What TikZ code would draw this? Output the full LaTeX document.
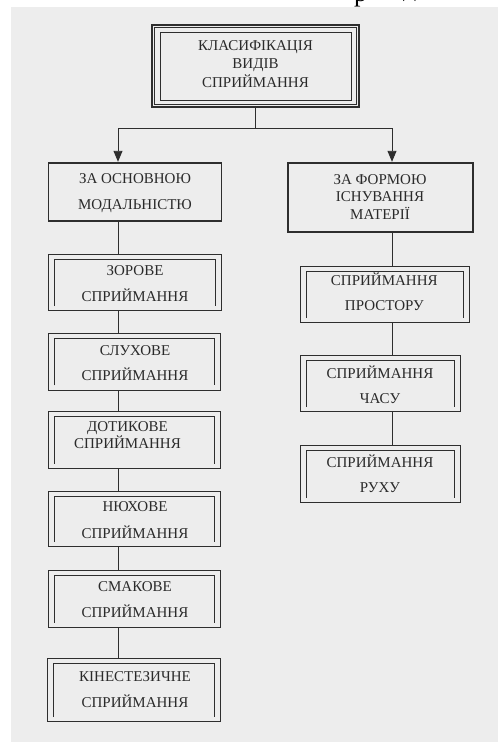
\documentclass[tikz,border=0pt]{standalone}
\usepackage{fontspec}
\setmainfont{Liberation Serif}
\usetikzlibrary{calc,arrows.meta}
\definecolor{bg}{HTML}{EDEDED}
\definecolor{lc}{HTML}{2E2E2E}
\definecolor{tc}{HTML}{2A2A2A}
\tikzset{
  bx/.style={draw=lc, line width=0.8pt, minimum width=#1, inner sep=0pt},
  mainbox/.style={draw=lc, line width=1.8pt, minimum width=#1, inner sep=0pt},
  lbl/.style={text=tc, anchor=base, align=center, inner sep=0pt},
  conn/.style={draw=lc, line width=0.9pt},
  arr/.style={conn, -{Triangle[width=9pt,length=11pt]}},
}
\newcommand{\fs}[1]{\fontsize{15}{#1}\selectfont}
\begin{document}
\begin{tikzpicture}[x=1pt,y=-1pt]
\useasboundingbox (0,0) rectangle (498,742);
\fill[bg] (11,7) rectangle (498,742);
% fragments of the line above
\begin{scope}
  \clip (330,0) rectangle (430,9);
  \node[anchor=base west, inner sep=0pt, font=\fontsize{26}{26}\selectfont, text=black] (fragA) at (354,1) {р};
  \node[anchor=base west, inner sep=0pt, font=\fontsize{26}{26}\selectfont, text=black] (fragB) at (403,-4) {д};
\end{scope}

% top box
\node[draw=lc, line width=2.2pt, minimum width=207pt, minimum height=82pt, inner sep=0pt] (top) at (255.5,66) {};
\draw[lc, line width=0.8pt] ($(top.north west)+(3.5,3.5)$) rectangle ($(top.south east)+(-3.5,-3.5)$);
\draw[lc, line width=0.7pt] ($(top.north west)+(9,8)$) rectangle ($(top.south east)+(-9,-7.5)$);
\node[lbl, font=\fs{18.5}] (toptxt) at (255.5,87) {КЛАСИФІКАЦІЯ\\ВИДІВ\\СПРИЙМАННЯ};

% main boxes
\node[mainbox=173pt, minimum height=58pt] (L0) at (135,191.7) {};
\node[lbl, font=\fs{26}] (L0t) at (135,209) {ЗА ОСНОВНОЮ\\МОДАЛЬНІСТЮ};
\node[mainbox=185pt, minimum height=69pt] (R0) at (380.2,197.2) {};
\node[lbl, font=\fs{17.3}] (R0t) at (380,219) {ЗА ФОРМОЮ\\ІСНУВАННЯ\\МАТЕРІЇ};

% left chain
\node[bx=173pt, minimum height=56.7pt] (L1) at (134.7,282.3) {};
\node[lbl, font=\fs{25.3}] (L1t) at (135,301) {ЗОРОВЕ\\СПРИЙМАННЯ};
\node[bx=172.7pt, minimum height=56.7pt] (L2) at (134.3,361.7) {};
\node[lbl, font=\fs{25}] (L2t) at (135,380) {СЛУХОВЕ\\СПРИЙМАННЯ};
\node[bx=172.7pt, minimum height=56.6pt] (L3) at (134.3,440) {};
\node[lbl, font=\fs{17.3}] (L3t) at (127.5,448.3) {ДОТИКОВЕ\\СПРИЙМАННЯ};
\node[bx=172.7pt, minimum height=55pt] (L4) at (134.3,519.2) {};
\node[lbl, font=\fs{26.6}] (L4t) at (135,538.3) {НЮХОВЕ\\СПРИЙМАННЯ};
\node[bx=172.7pt, minimum height=56.6pt] (L5) at (134.3,599) {};
\node[lbl, font=\fs{26}] (L5t) at (135,617.7) {СМАКОВЕ\\СПРИЙМАННЯ};
\node[bx=173.4pt, minimum height=63.4pt] (L6) at (134,690) {};
\node[lbl, font=\fs{25.6}] (L6t) at (135,707.3) {КІНЕСТЕЗИЧНЕ\\СПРИЙМАННЯ};

% right chain
\node[bx=169.3pt, minimum height=56.7pt] (R1) at (384.6,294.3) {};
\node[lbl, font=\fs{25}] (R1t) at (384.3,310) {СПРИЙМАННЯ\\ПРОСТОРУ};
\node[bx=160pt, minimum height=56pt] (R2) at (380,383.7) {};
\node[lbl, font=\fs{25}] (R2t) at (380,403.3) {СПРИЙМАННЯ\\ЧАСУ};
\node[bx=160.7pt, minimum height=57pt] (R3) at (380.3,474.2) {};
\node[lbl, font=\fs{24.6}] (R3t) at (380,492.3) {СПРИЙМАННЯ\\РУХУ};

% inner open frames
\foreach \n in {L1,L2,L3,L4,L5,L6,R1,R2,R3}{
  \draw[lc, line width=0.7pt] ($(\n.south west)+(6.5,-5)$) -- ($(\n.north west)+(6.5,5.5)$)
     -- ($(\n.north east)+(-6.5,5.5)$) -- ($(\n.south east)+(-6.5,-5)$);
}

% connectors
\coordinate (cl) at (118,0);
\coordinate (cr) at (392,0);
\coordinate (jn) at (255.5,128);
\draw[conn] (top.south) -- (jn);
\draw[conn] (jn -| cl) -- (jn -| cr);
\draw[arr] (jn -| cl) -- (L0.north -| cl);
\draw[arr] (jn -| cr) -- (R0.north -| cr);
\draw[conn] (L0.south -| cl) -- (L1.north -| cl);
\draw[conn] (L1.south -| cl) -- (L2.north -| cl);
\draw[conn] (L2.south -| cl) -- (L3.north -| cl);
\draw[conn] (L3.south -| cl) -- (L4.north -| cl);
\draw[conn] (L4.south -| cl) -- (L5.north -| cl);
\draw[conn] (L5.south -| cl) -- (L6.north -| cl);
\draw[conn] (R0.south -| cr) -- (R1.north -| cr);
\draw[conn] (R1.south -| cr) -- (R2.north -| cr);
\draw[conn] (R2.south -| cr) -- (R3.north -| cr);
\end{tikzpicture}
\end{document}
